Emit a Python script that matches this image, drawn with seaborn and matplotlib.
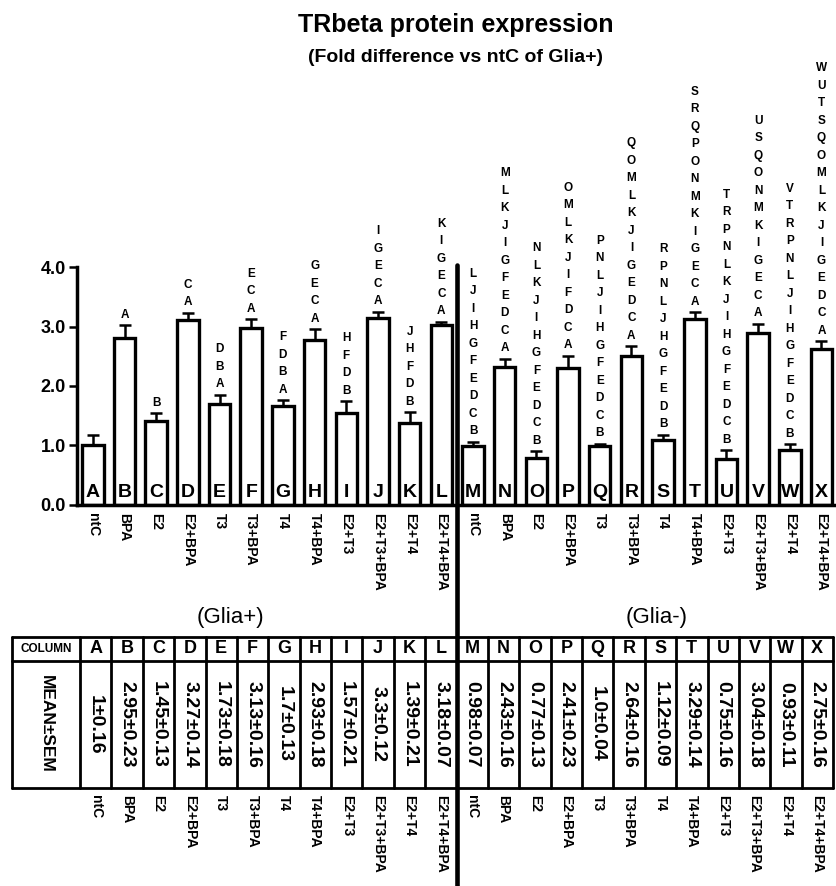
import numpy as np
import matplotlib
matplotlib.use("Agg")
import matplotlib.pyplot as plt
from matplotlib.lines import Line2D
import pandas as pd
import seaborn as sns

# Бары TRbeta: 24 группы (Glia+ / Glia-), ошибки только вверх, буквы значимости над барами

columns = list("ABCDEFGHIJKLMNOPQRSTUVWX")
treatments = ["ntC", "BPA", "E2", "E2+BPA", "T3", "T3+BPA", "T4", "T4+BPA",
              "E2+T3", "E2+T3+BPA", "E2+T4", "E2+T4+BPA"]
labels = treatments + treatments

bar_heights = [1.01, 2.81, 1.42, 3.11, 1.69, 2.97, 1.66, 2.77, 1.55, 3.14, 1.38, 3.02,
               0.99, 2.32, 0.79, 2.31, 0.99, 2.51, 1.10, 3.12, 0.78, 2.89, 0.93, 2.62]
bar_errors = [0.16, 0.21, 0.12, 0.12, 0.16, 0.15, 0.10, 0.18, 0.19, 0.11, 0.18, 0.06,
              0.07, 0.14, 0.11, 0.20, 0.04, 0.16, 0.08, 0.12, 0.14, 0.16, 0.09, 0.13]

table_means = ["1", "2.95", "1.45", "3.27", "1.73", "3.13", "1.7", "2.93", "1.57", "3.3", "1.39", "3.18",
               "0.98", "2.43", "0.77", "2.41", "1.0", "2.64", "1.12", "3.29", "0.75", "3.04", "0.93", "2.75"]
table_sems = ["0.16", "0.23", "0.13", "0.14", "0.18", "0.16", "0.13", "0.18", "0.21", "0.12", "0.21", "0.07",
              "0.07", "0.16", "0.13", "0.23", "0.04", "0.16", "0.09", "0.14", "0.16", "0.18", "0.11", "0.16"]

sig_letters = ["", "A", "B", "AC", "ABD", "ACE", "ABDF", "ACEG", "BDFH", "ACEGI", "BDFHJ", "ACEGIK",
               "BCDEFGHIJL", "ACDEFGIJKLM", "BCDEFGHIJKLN", "ACDFIJKLMO", "BCDEFGHIJLNP",
               "ACDEGIJKLMOQ", "BDEFGHJLNPR", "ACEGIKMNOPQRS", "BCDEFGHIJKLNPRT",
               "ACEGIKMNOQSU", "BCDEFGHIJLNPRTV", "ACDEGIJKLMOQSTUW"]

sns.set_theme(style="ticks")
plt.rcParams['font.family'] = ['Liberation Sans', 'DejaVu Sans']
plt.rcParams.update({"text.color": "black", "axes.edgecolor": "black",
                     "xtick.color": "black", "ytick.color": "black", "axes.labelcolor": "black"})

W, H = 836, 886
fig = plt.figure(figsize=(W / 100, H / 100), dpi=100)

px = 31.68        # ширина слота одного бара в пикселях
ax_left = 77
x_lo = -0.5
x_hi = x_lo + (W - ax_left) / px
ax = fig.add_axes([ax_left / W, 1 - 505 / H, (W - ax_left) / W, (505 - 267) / H])

df = pd.DataFrame({"col": columns, "val": bar_heights})
sns.barplot(data=df, x="col", y="val", order=columns, color="white", saturation=1,
            edgecolor="black", linewidth=2.4, width=0.68, ax=ax)
xs = np.arange(len(columns))
ax.errorbar(xs, bar_heights, yerr=[np.zeros(len(xs)), bar_errors], fmt="none",
            ecolor="black", elinewidth=1.8, capsize=4.5, capthick=1.8)

ax.set_xlim(x_lo, x_hi)
ax.set_ylim(0, 4)
ax.set_yticks([0, 1, 2, 3, 4])
ax.set_yticklabels([f"{v:.1f}" for v in [0, 1, 2, 3, 4]], fontsize=13, fontweight="bold")
ax.set_xticks(xs)
ax.set_xticklabels(labels, rotation=-90, fontsize=10, fontweight="bold", va="top")
ax.tick_params(axis="x", length=0, pad=6)
ax.tick_params(axis="y", length=6, width=1.8, pad=2)
ax.set_xlabel("")
ax.set_ylabel("")
sns.despine(ax=ax)
for s in ["left", "bottom"]:
    ax.spines[s].set_linewidth(2.5)
ax.patch.set_alpha(0)

# буквы внутри баров и буквы значимости
for i, c in enumerate(columns):
    ax.annotate(c, (i, 0), xytext=(0, 6), textcoords="offset points",
                ha="center", va="baseline", fontsize=14, fontweight="bold")
    top = bar_heights[i] + bar_errors[i]
    for k, letter in enumerate(sig_letters[i]):
        ax.annotate(letter, (i, top), xytext=(0, 5.4 + k * 12.6), textcoords="offset points",
                    ha="center", va="baseline", fontsize=8.5, fontweight="bold",
                    annotation_clip=False)

fig.text(456 / W, 1 - 25 / H, "TRbeta protein expression", ha="center", va="center",
         fontsize=18, fontweight="bold")
fig.text(456 / W, 1 - 57 / H, "(Fold difference vs ntC of Glia+)", ha="center", va="center",
         fontsize=14, fontweight="bold")
fig.text(230 / W, 1 - 618 / H, "(Glia+)", ha="center", va="center", fontsize=16)
fig.text(657 / W, 1 - 618 / H, "(Glia-)", ha="center", va="center", fontsize=16)

# таблица (в пикселях фигуры)
fx = lambda x: x / W
fy = lambda y: 1 - y / H
t_left, t_x0, t_w = 12, 80, 31.375
t_right = t_x0 + len(columns) * t_w
t_top, t_mid, t_bot = 636.7, 660.7, 788
for y in [t_top, t_mid, t_bot]:
    fig.add_artist(Line2D([fx(t_left), fx(t_right)], [fy(y), fy(y)], color="black", lw=2))
for x in [t_left] + [t_x0 + k * t_w for k in range(len(columns) + 1)]:
    fig.add_artist(Line2D([fx(x), fx(x)], [fy(t_top), fy(t_bot)], color="black", lw=2))

fig.text(fx((t_left + t_x0) / 2), fy((t_top + t_mid) / 2), "COLUMN", ha="center", va="center",
         fontsize=8.5, fontweight="bold")
fig.text(fx((t_left + t_x0) / 2), fy((t_mid + t_bot) / 2), "MEAN±SEM", ha="center", va="center",
         rotation=-90, fontsize=12.5, fontweight="bold")
for i, c in enumerate(columns):
    cx = fx(t_x0 + (i + 0.5) * t_w)
    fig.text(cx, fy((t_top + t_mid) / 2), c, ha="center", va="center",
             fontsize=13, fontweight="bold")
    fig.text(cx, fy((t_mid + t_bot) / 2), f"{table_means[i]}±{table_sems[i]}",
             ha="center", va="center", rotation=-90, fontsize=14, fontweight="bold")
    fig.text(cx, fy(795), labels[i], ha="center", va="top", rotation=-90,
             fontsize=10, fontweight="bold")

# разделитель Glia+ / Glia-
sep_x = fx(t_x0 + 12 * t_w)
fig.add_artist(Line2D([sep_x, sep_x], [fy(265), 0], color="black", lw=3.3))

fig.savefig("out.png", dpi=100, facecolor="white")
